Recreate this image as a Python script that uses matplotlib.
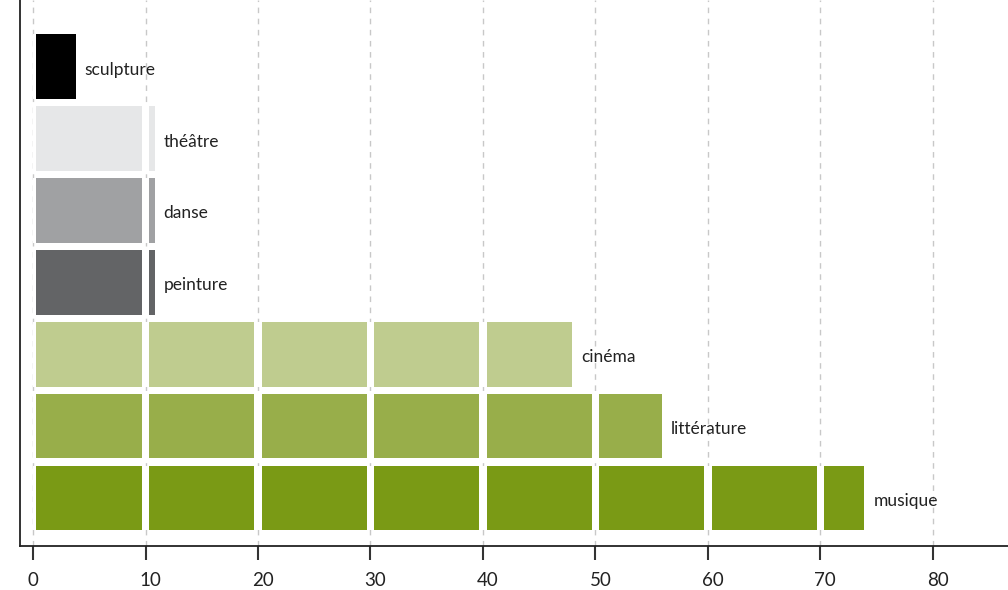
import numpy as np
import matplotlib.pyplot as plt
import matplotlib.transforms as mtrans

# categories from bottom to top
categories = ["musique", "littérature", "cinéma", "peinture", "danse", "théâtre", "sculpture"]
values = [73.9, 55.9, 47.9, 10.8, 10.8, 10.8, 3.8]
colors = ["#7a9a15", "#98ae4a", "#bfcc8f", "#636466", "#a0a1a3", "#e6e7e8", "#000000"]
xticks = [0, 10, 20, 30, 40, 50, 60, 70, 80]

plt.rcParams['font.family'] = ['Lato', 'DejaVu Sans']

fig = plt.figure(figsize=(10.08, 5.90), dpi=100)
ax = fig.add_axes([0.0198, 0.0746, 0.9802, 0.9254])

half_gap = 0.35
bar_h = 0.9
for i, (v, c) in enumerate(zip(values, colors)):
    # white base so the gaps hide the grid
    ax.barh(i, v, left=0, height=bar_h, color="white", zorder=2)
    start = 0
    while start < v:
        end = min(start + 10, v)
        a = start + half_gap if start > 0 else 0.25
        b = end - half_gap if end < v else end
        if b > a:
            ax.barh(i, b - a, left=a, height=bar_h, color=c, zorder=3)
        start += 10
    ax.text(v + 0.8, i - 0.04, categories[i], va="center", ha="left", fontsize=12.5, color="#222222")

ax.set_xlim(-1.16, 86.67)
ax.set_ylim(-0.67, 6.93)
ax.set_xticks(xticks)
ax.set_xticklabels([str(t) for t in xticks], ha="left")
ax.set_yticks([])
ax.xaxis.grid(True, linestyle=(0, (4, 4)), color="#c8c8c8", linewidth=1, zorder=0)
ax.set_axisbelow(True)
ax.tick_params(axis="x", length=10, width=1.5, color="#333333", labelsize=13.5, pad=9, labelcolor="#222222")

# labels sit just right of the tick, shift them back a bit
offset = mtrans.ScaledTranslation(-6 / 100, 0, fig.dpi_scale_trans)
for lab in ax.get_xticklabels():
    lab.set_transform(lab.get_transform() + offset)

for s in ["top", "right"]:
    ax.spines[s].set_visible(False)
ax.spines["left"].set_color("#222222")
ax.spines["bottom"].set_color("#222222")
ax.spines["left"].set_linewidth(1.3)
ax.spines["bottom"].set_linewidth(1.3)

plt.savefig("out.png", dpi=100)
